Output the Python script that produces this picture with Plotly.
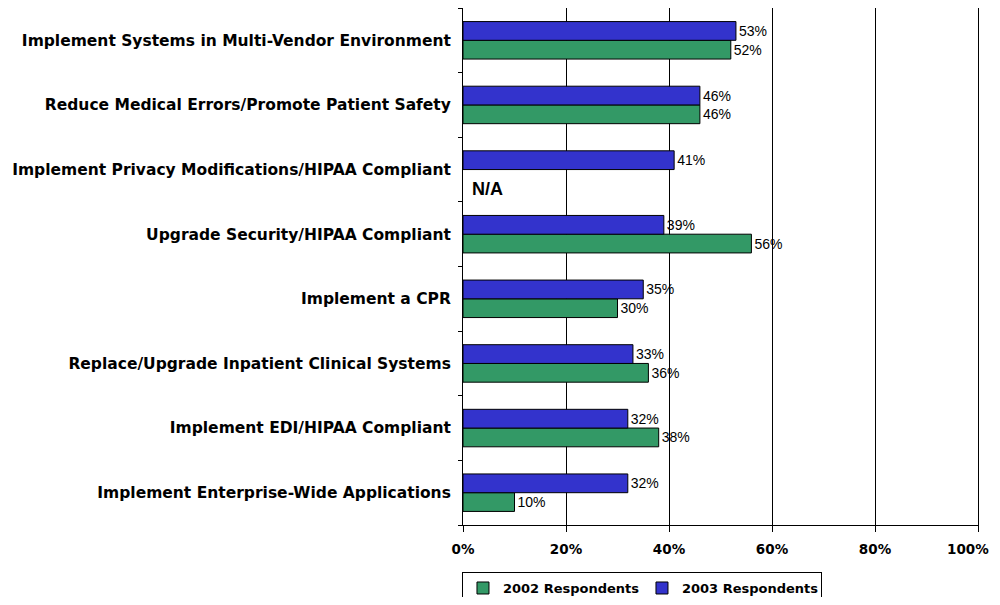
import plotly.graph_objects as go

categories = [
    "Implement Systems in Multi-Vendor Environment",
    "Reduce Medical Errors/Promote Patient Safety",
    "Implement Privacy Modifications/HIPAA Compliant",
    "Upgrade Security/HIPAA Compliant",
    "Implement a CPR",
    "Replace/Upgrade Inpatient Clinical Systems",
    "Implement EDI/HIPAA Compliant",
    "Implement Enterprise-Wide Applications",
]
resp_2002 = [52, 46, None, 56, 30, 36, 38, 10]
resp_2003 = [53, 46, 41, 39, 35, 33, 32, 32]
x_ticks = [0, 20, 40, 60, 80, 100]

GREEN = "#339966"
BLUE = "#3333CC"
BOLD_FONT = "DejaVu Sans"

def labels(vals):
    return ["" if v is None else f"{v}%" for v in vals]

fig = go.Figure()
fig.add_trace(go.Bar(
    y=categories, x=resp_2002, orientation="h", name="2002 Respondents",
    marker=dict(color=GREEN, line=dict(color="black", width=1)),
    text=labels(resp_2002), textposition="outside", cliponaxis=False,
    textfont=dict(family="Arial", size=14, color="black"),
))
fig.add_trace(go.Bar(
    y=categories, x=resp_2003, orientation="h", name="2003 Respondents",
    marker=dict(color=BLUE, line=dict(color="black", width=1)),
    text=labels(resp_2003), textposition="outside", cliponaxis=False,
    textfont=dict(family="Arial", size=14, color="black"),
))

# N/A marker for the missing 2002 value
for i, v in enumerate(resp_2002):
    if v is None:
        fig.add_annotation(
            x=0, y=categories[i], xref="x", yref="y", yshift=-19,
            text="<b>N/A</b>", showarrow=False, xanchor="left", xshift=7,
            font=dict(family="Arial", size=18, color="black"),
        )

tick_text = [f"{t}%" for t in x_ticks]
# last tick label drawn as an annotation so it stays inside the visible window
last_label = tick_text[-1]
tick_text[-1] = ""
fig.add_annotation(
    x=x_ticks[-1], xref="x", y=0, yref="paper", text=last_label,
    showarrow=False, xanchor="right", yanchor="middle", xshift=13, yshift=-24,
    font=dict(family=BOLD_FONT, size=13.5, color="black", weight="bold"),
)

fig.update_layout(
    width=992, height=589,
    margin=dict(l=455, r=22, t=0, b=72, autoexpand=False),
    paper_bgcolor="white", plot_bgcolor="white",
    barmode="group", bargap=0.42, bargroupgap=0,
    showlegend=True,
    legend=dict(
        orientation="h", x=-0.002, xanchor="left", y=-0.091, yanchor="top",
        bordercolor="black", borderwidth=1,
        font=dict(family=BOLD_FONT, size=13, color="black", weight="bold"),
        entrywidth=134, traceorder="normal",
    ),
    font=dict(family="Arial", color="black"),
)
fig.update_xaxes(
    range=[0, 100], tickvals=x_ticks, ticktext=tick_text,
    showgrid=True, gridcolor="black", gridwidth=1,
    showline=True, linecolor="black", linewidth=1, mirror=True,
    ticks="outside", ticklen=6, tickcolor="black",
    tickfont=dict(family=BOLD_FONT, size=13.5, color="black", weight="bold"),
    ticklabelstandoff=6, ticklabeloverflow="allow", zeroline=False,
)
fig.update_yaxes(
    categoryorder="array", categoryarray=categories[::-1],
    showgrid=False, showline=True, linecolor="black", linewidth=1, mirror=True,
    ticks="outside", ticklen=4, tickcolor="black", tickson="boundaries",
    tickfont=dict(family=BOLD_FONT, size=15.5, color="black", weight="bold"),
    ticklabelstandoff=8,
)

fig.write_html("out.html")
